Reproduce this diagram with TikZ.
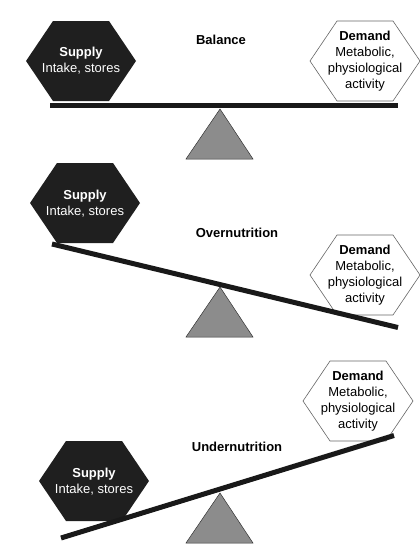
\documentclass[tikz,border=0pt]{standalone}
\usepackage{fontspec}
\setmainfont{Liberation Sans}
\tikzset{
    hexa/.pic={\path[pic actions] (-55,0) -- (-28,-40) -- (28,-40) -- (55,0) -- (28,40) -- (-28,40) -- cycle;},
    supplyhex/.style={fill=black!88},
    demandhex/.style={draw=black!60,fill=white,line width=0.6pt},
    beam/.style={line width=5pt,draw=black!90},
    pivot/.style={fill=black!45,draw=black!80,line width=0.5pt},
    txt/.style={align=center,inner sep=0pt,font=\fontsize{13}{16}\selectfont},
    title/.style={inner sep=0pt,font=\fontsize{13}{16}\selectfont\bfseries}
}
\begin{document}
\begin{tikzpicture}[x=1pt,y=-1pt]
    \useasboundingbox (0,0) rectangle (420,557);
    % pivots
    \foreach \ty/\n in {109/A,287/B,493/C} {
        \coordinate (top\n) at (220,\ty);
        \filldraw[pivot] (top\n) -- (253,\ty+50) -- (186,\ty+50) -- cycle;
    }
    % balance
    \pic[supplyhex] at (81,61) {hexa};
    \pic[demandhex] at (365,61) {hexa};
    \coordinate (bA1) at (50,105.5);
    \coordinate (bA2) at (398,105.5);
    \draw[beam] (bA1) -- (bA2);
    \node[txt,text=white] (supA) at (81,61) {\textbf{Supply}\\Intake, stores};
    \node[txt] (demA) at (365,61) {\textbf{Demand}\\Metabolic,\\physiological\\activity};
    \node[title] (balA) at (221,40) {Balance};
    % overnutrition
    \pic[supplyhex] at (85,203) {hexa};
    \pic[demandhex] at (365,275) {hexa};
    \coordinate (bB1) at (52,244);
    \coordinate (bB2) at (398,327.5);
    \draw[beam] (bB1) -- (bB2);
    \node[txt,text=white] (supB) at (85,204) {\textbf{Supply}\\Intake, stores};
    \node[txt] (demB) at (365,275) {\textbf{Demand}\\Metabolic,\\physiological\\activity};
    \node[title] (balB) at (237,233) {Overnutrition};
    % undernutrition
    \pic[supplyhex] at (94,481) {hexa};
    \pic[demandhex] at (358,401) {hexa};
    \coordinate (bC1) at (61,538);
    \coordinate (bC2) at (394,435.5);
    \draw[beam] (bC1) -- (bC2);
    \node[txt,text=white] (supC) at (94,481.5) {\textbf{Supply}\\Intake, stores};
    \node[txt] (demC) at (358,401.5) {\textbf{Demand}\\Metabolic,\\physiological\\activity};
    \node[title] (balC) at (237,447) {Undernutrition};
\end{tikzpicture}
\end{document}
